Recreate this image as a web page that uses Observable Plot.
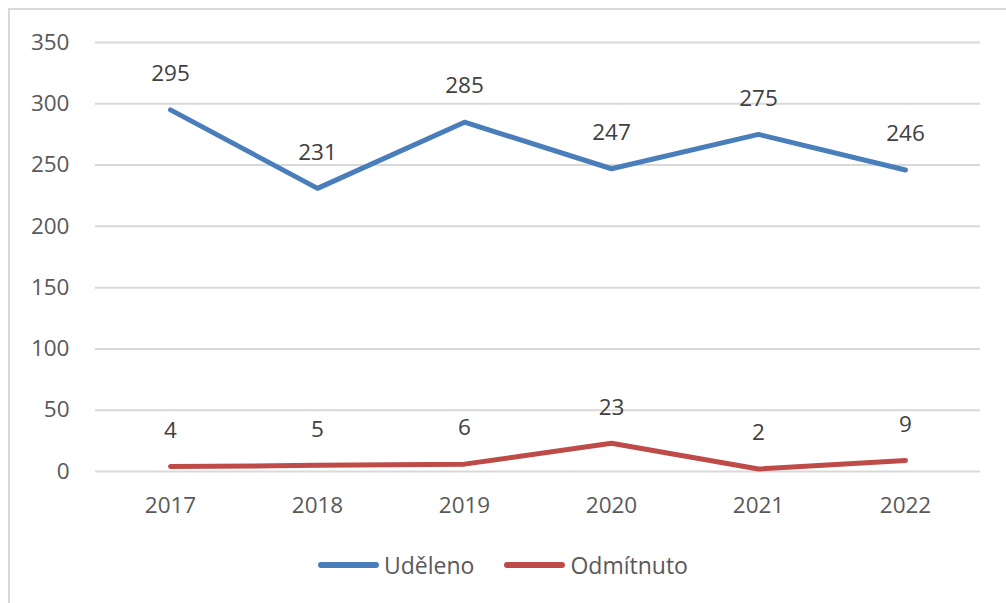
<!DOCTYPE html>
<html><head><meta charset="utf-8">
<script src="https://cdn.jsdelivr.net/npm/d3@7"></script>
<script src="https://cdn.jsdelivr.net/npm/@observablehq/plot@0.6"></script>
<style>
body{margin:0;background:#fff;font-family:"Open Sans",sans-serif;}
#frame{position:absolute;left:8px;top:8px;width:1010px;height:610px;border:2px solid #d9d9d9;box-sizing:border-box;}
#chart{position:absolute;left:0;top:0;}
#legend{position:absolute;left:0;top:549px;width:1006px;display:flex;justify-content:center;gap:30px;font-size:23px;color:#595959;}
.item{display:flex;align-items:center;gap:5px;}
.sw{width:61px;height:6px;border-radius:3px;}
</style></head>
<body>
<div id="frame"></div>
<div id="chart"></div>
<div id="legend"></div>
<script>
const years = ["2017","2018","2019","2020","2021","2022"];
const udeleno = [295,231,285,247,275,246];
const odmitnuto = [4,5,6,23,2,9];
const seriesNames = ["Uděleno","Odmítnuto"];
const colors = ["#4a7ebb","#be4b48"];
const yTicks = [0,50,100,150,200,250,300,350];

const data = [];
years.forEach((y,i)=>{
  data.push({year:y, value:udeleno[i], series:seriesNames[0]});
  data.push({year:y, value:odmitnuto[i], series:seriesNames[1]});
});

const plot = Plot.plot({
  width:1006, height:520,
  marginLeft:95, marginRight:26, marginTop:42, marginBottom:49,
  style:{fontFamily:"'Open Sans', sans-serif", fontSize:"22px", color:"#595959", background:"transparent"},
  x:{type:"point", domain:years, padding:0.5, label:null},
  y:{domain:[0,350], label:null},
  color:{domain:seriesNames, range:colors},
  marks:[
    Plot.ruleY(yTicks,{stroke:"#d9d9d9", strokeWidth:2, strokeOpacity:1}),
    Plot.axisY({ticks:yTicks, tickSize:0, tickPadding:26, label:null, fontSize:22.5}),
    Plot.axisX({tickSize:0, tickPadding:26, label:null, fontSize:22.5}),
    Plot.line(data,{x:"year", y:"value", z:"series", stroke:"series", strokeWidth:5, strokeLinecap:"round", strokeLinejoin:"round"}),
    Plot.text(data,{x:"year", y:"value", text:d=>String(d.value), dy:-36, fill:"#404040", fontSize:22.5})
  ]
});
document.getElementById("chart").appendChild(plot);

const leg = document.getElementById("legend");
seriesNames.forEach((n,i)=>{
  const it = document.createElement("div"); it.className="item";
  const sw = document.createElement("div"); sw.className="sw"; sw.style.background=colors[i];
  const t = document.createElement("span"); t.textContent=n;
  it.appendChild(sw); it.appendChild(t); leg.appendChild(it);
});
</script>
</body></html>
